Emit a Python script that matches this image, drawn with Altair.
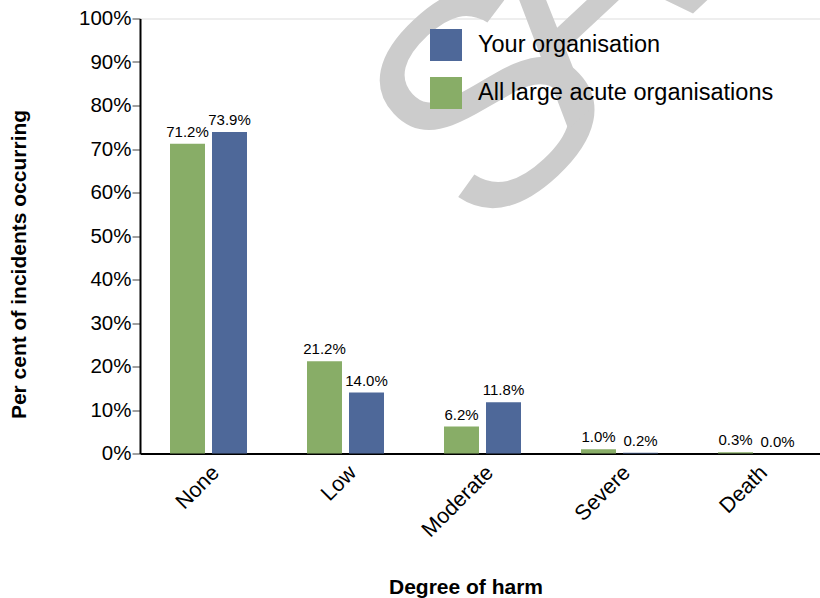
import altair as alt
import pandas as pd

categories = ["None", "Low", "Moderate", "Severe", "Death"]
your_org = [73.9, 14.0, 11.8, 0.2, 0.0]
all_large = [71.2, 21.2, 6.2, 1.0, 0.3]
series_names = ["Your organisation", "All large acute organisations"]
series_colors = ["#4E6899", "#88AD67"]
y_ticks = [0, 10, 20, 30, 40, 50, 60, 70, 80, 90, 100]

rows = []
for c, yo, al in zip(categories, your_org, all_large):
    rows.append({"category": c, "series": series_names[1], "value": al})
    rows.append({"category": c, "series": series_names[0], "value": yo})
df = pd.DataFrame(rows)

FONT = "Liberation Sans"

x_enc = alt.X(
    "category:N",
    sort=categories,
    scale=alt.Scale(range=[0, 685], paddingInner=0.438, paddingOuter=0.219),
    axis=alt.Axis(
        title="Degree of harm",
        labelAngle=-45,
        labelFontSize=21.5,
        labelFont=FONT,
        labelColor="black",
        labelPadding=8,
        ticks=False,
        domainColor="black",
        domainWidth=2,
        titleFont=FONT,
        titleFontSize=21,
        titleFontWeight="bold",
        titleColor="black",
        titleX=325.5,
        titleY=139.5,
        titleAlign="center",
        titleBaseline="alphabetic",
    ),
)
xoff_enc = alt.XOffset(
    "series:N",
    sort=[series_names[1], series_names[0]],
    scale=alt.Scale(paddingInner=0.167),
)
y_enc = alt.Y(
    "value:Q",
    scale=alt.Scale(domain=[0, 100], nice=False, zero=True),
    axis=alt.Axis(
        title="Per cent of incidents occurring",
        values=y_ticks,
        labelExpr="datum.value + '%'",
        labelFontSize=20.5,
        labelFont=FONT,
        labelColor="black",
        labelPadding=1,
        tickSize=8,
        tickColor="#808080",
        tickWidth=1.5,
        domainColor="black",
        domainWidth=2,
        grid=False,
        titleFont=FONT,
        titleFontSize=21,
        titleFontWeight="bold",
        titleColor="black",
        titleAngle=270,
        titleX=-115,
        titleY=245.5,
        titleAlign="center",
        titleBaseline="alphabetic",
    ),
)

base = alt.Chart(df).encode(x=x_enc, xOffset=xoff_enc, y=y_enc)

bars = base.mark_bar().encode(
    color=alt.Color(
        "series:N",
        scale=alt.Scale(domain=series_names, range=series_colors),
        legend=alt.Legend(
            title=None,
            orient="none",
            legendX=290,
            legendY=10.5,
            symbolType="square",
            symbolSize=1024,
            symbolStrokeWidth=0,
            symbolOpacity=1,
            labelFontSize=23.5,
            labelFont=FONT,
            labelColor="black",
            labelOffset=16,
            labelLimit=500,
            rowPadding=16,
            padding=0,
        ),
    )
)

labels = base.mark_text(
    baseline="alphabetic", align="center", dy=-7, fontSize=15, font=FONT, color="black"
).transform_calculate(label="format(datum.value, '.1f') + '%'").encode(text="label:N")

# watermark "SAMPLE" (tightly spaced), drawn in two pieces
wm_style = dict(
    fontSize=300,
    font=FONT,
    color="#cccccc",
    angle=317,
    align="left",
    baseline="alphabetic",
)
wm_s = alt.Chart(pd.DataFrame({"t": ["S"]})).mark_text(**wm_style).encode(
    text="t:N", x=alt.value(342), y=alt.value(224)
)
wm_rest = alt.Chart(pd.DataFrame({"t": ["AMPLE"]})).mark_text(**wm_style).encode(
    text="t:N", x=alt.value(428), y=alt.value(111.5)
)

chart = (
    alt.layer(bars, labels, wm_s, wm_rest)
    .properties(
        width=680,
        height=435,
        padding={"left": 140, "top": 18.5, "right": 0, "bottom": 144.5},
        autosize=alt.AutoSizeParams(type="none"),
    )
    .configure_view(stroke=None)
    .configure(background="white")
)

chart.save("out.html", embed_options={"renderer": "svg", "actions": False})
